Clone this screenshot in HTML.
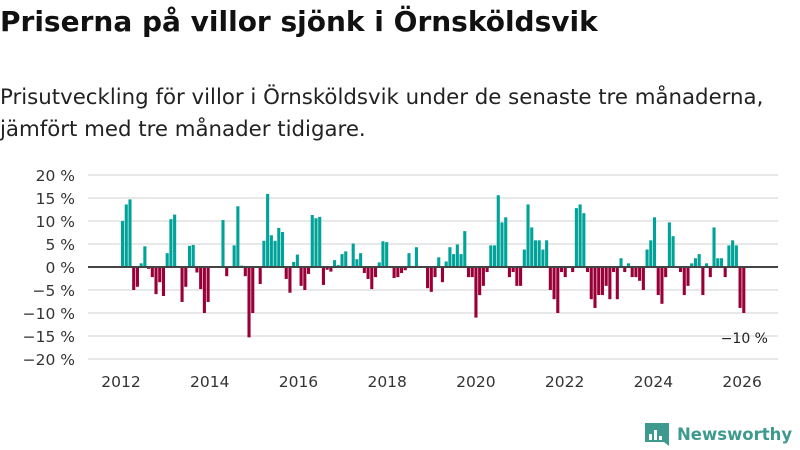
<!DOCTYPE html>
<html><head><meta charset="utf-8"><style>
body{margin:0;background:#fff;font-family:"DejaVu Sans",sans-serif;}
#w{position:relative;width:800px;height:450px;overflow:hidden}
h1{position:absolute;left:0;top:5px;margin:0;font-size:28px;font-weight:bold;color:#111;letter-spacing:0}
p{position:absolute;left:0;top:82px;margin:0;font-size:21.3px;line-height:32px;color:#222}
svg{position:absolute;left:0;top:0}
</style></head><body><div id="w">
<h1>Priserna på villor sjönk i Örnsköldsvik</h1>
<p>Prisutveckling för villor i Örnsköldsvik under de senaste tre månaderna,<br>jämfört med tre månader tidigare.</p>
<svg id="c" width="800" height="450"></svg>
</div>
<script>
const values=[10,13.6,14.7,-5,-4.3,0.8,4.5,-0.4,-2.2,-5.9,-3.3,-6.3,3,10.4,11.4,0,-7.6,-4.3,4.6,4.8,-1.2,-4.8,-10,-7.6,0,0,0,10.2,-2,0,4.7,13.2,0.3,-2,-15.3,-10,0,-3.7,5.7,15.9,6.9,5.7,8.5,7.6,-2.6,-5.6,1.1,2.7,-4.1,-5,-1.5,11.3,10.6,10.9,-3.9,-0.6,-1,1.5,0.4,2.8,3.4,0,5.1,1.7,3,-1.3,-2.6,-4.8,-2.2,1,5.6,5.4,0,-2.4,-2.2,-1.3,-0.7,3,0,4.3,0,0,-4.6,-5.4,-2.2,2.1,-3.3,1.2,4.3,2.8,4.9,2.8,7.8,-2.2,-2.2,-11,-6.1,-4.1,-1.1,4.7,4.7,15.6,9.7,10.8,-2.2,-1.1,-4.1,-4.1,3.8,13.6,8.6,5.8,5.8,3.8,5.8,-5,-7,-10,-1.1,-2.2,0,-1.1,12.8,13.6,11.7,-1.1,-7,-8.9,-6.1,-6.1,-4.1,-7,-1.1,-7,1.9,-1.1,0.8,-2.2,-2.2,-3,-5,3.8,5.8,10.8,-6.1,-8,-2.2,9.7,6.7,0,-1.1,-6.1,-4.1,0.8,1.9,2.8,-6.1,0.8,-2.2,8.6,1.9,1.9,-2.2,4.7,5.8,4.7,-8.9,-10];
const yTicks=[20,15,10,5,0,-5,-10,-15,-20];
const xYears=[2012,2014,2016,2018,2020,2022,2024,2026];
const startYear=2012;
const NS='http://www.w3.org/2000/svg';
const svg=document.getElementById('c');
const FONT='DejaVu Sans, sans-serif';
function y(v){return 267-v*4.6;}
function xm(i){return 121+i*3.72;}
function xy(yr){return 121+(yr-startYear)*12*3.697;}
function mk(t,a){const e=document.createElementNS(NS,t);for(const k in a)e.setAttribute(k,a[k]);svg.appendChild(e);return e;}
yTicks.forEach(t=>{
 const g=mk('line',{x1:88,x2:778,y1:y(t),y2:y(t),stroke:'#e0e0e0','stroke-width':1.5});
 
 
 const l=mk('text',{x:75,y:y(t)+6,'text-anchor':'end','font-size':15.5,fill:'#333','font-family':FONT});
 l.textContent=(t<0?'−'+(-t):t)+' %';
 
 
});
values.forEach((v,i)=>{
 if(v===0)return;
 const b=mk('rect',{x:xm(i),width:3.1,y:Math.min(y(v),y(0)),height:Math.abs(y(v)-y(0)),fill:v>0?'#00a39a':'#990038'});
 
 
});
const z=mk('line',{x1:88,x2:778,y1:y(0),y2:y(0),stroke:'#444','stroke-width':2});


xYears.forEach(yr=>{
 const l=mk('text',{x:xy(yr),y:387,'text-anchor':'middle','font-size':15.5,fill:'#333','font-family':FONT});
 l.textContent=yr;
 
 
});
const last=values[values.length-1];
const lb=mk('text',{x:768,y:y(last)+30,'text-anchor':'end','font-size':14,fill:'#222','font-family':FONT});
lb.textContent='−'+(-last)+' %';


const lg=mk('g',{});


const ic=document.createElementNS(NS,'path');
ic.setAttribute('d','M645 423 h24 v23 l-5 -4 h-19 z');
ic.setAttribute('fill','#3e9a8e');lg.appendChild(ic);
[[649,434,3,6],[654,430,3,10],[659,436,3,4]].forEach(r=>{const e=document.createElementNS(NS,'rect');e.setAttribute('x',r[0]);e.setAttribute('y',r[1]);e.setAttribute('width',r[2]);e.setAttribute('height',r[3]);e.setAttribute('fill','#fff');lg.appendChild(e);});
const tx=document.createElementNS(NS,'text');
tx.setAttribute('x',677);tx.setAttribute('y',440);tx.setAttribute('font-size',16.5);tx.setAttribute('font-weight','bold');tx.setAttribute('fill','#3e9a8e');tx.setAttribute('font-family',FONT);
tx.textContent='Newsworthy';lg.appendChild(tx);
svg.appendChild(lg);
</script></body></html>
